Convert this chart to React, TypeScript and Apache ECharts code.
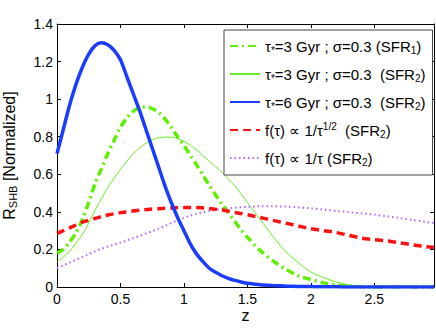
import React, { useEffect, useRef } from "react";
import * as echarts from "echarts";

const zValues = [
  0, 0.05, 0.1, 0.15, 0.2, 0.25, 0.3, 0.35, 0.4, 0.45, 0.5, 0.55, 0.6, 0.65, 0.7, 0.75,
  0.8, 0.85, 0.9, 0.95, 1.0, 1.05, 1.1, 1.15, 1.2, 1.25, 1.3, 1.35, 1.4, 1.45, 1.5,
  1.6, 1.7, 1.8, 1.9, 2.0, 2.1, 2.2, 2.3, 2.4, 2.5, 2.6, 2.7, 2.8, 2.9, 2.97,
];

const tau3Sfr1 = [
  0.18, 0.2, 0.24, 0.29, 0.36, 0.45, 0.55, 0.63, 0.71, 0.78, 0.85, 0.9, 0.935, 0.955, 0.958, 0.95,
  0.93, 0.895, 0.85, 0.8, 0.755, 0.7, 0.65, 0.595, 0.54, 0.49, 0.44, 0.395, 0.35, 0.305, 0.265,
  0.195, 0.14, 0.095, 0.06, 0.04, 0.022, 0.01, 0.004, 0.001, 0, 0, 0, 0, 0, 0,
];

const tau3Sfr2 = [
  0.135, 0.16, 0.19, 0.235, 0.28, 0.34, 0.41, 0.47, 0.53, 0.58, 0.625, 0.67, 0.71, 0.74, 0.765, 0.783,
  0.794, 0.798, 0.797, 0.79, 0.775, 0.755, 0.73, 0.7, 0.67, 0.64, 0.61, 0.575, 0.54, 0.495, 0.45,
  0.36, 0.27, 0.19, 0.13, 0.08, 0.05, 0.027, 0.012, 0.004, 0.001, 0, 0, 0, 0, 0,
];

const tau6Sfr2 = [
  0.71, 0.84, 0.97, 1.08, 1.17, 1.24, 1.285, 1.3, 1.29, 1.26, 1.21, 1.12, 1.03, 0.94, 0.84, 0.74,
  0.64, 0.54, 0.45, 0.37, 0.3, 0.23, 0.175, 0.135, 0.1, 0.078, 0.06, 0.046, 0.035, 0.027, 0.02,
  0.012, 0.008, 0.005, 0.003, 0.002, 0.001, 0.001, 0, 0, 0, 0, 0, 0, 0, 0,
];

const invSqrtTau = [
  0.285, 0.3, 0.315, 0.33, 0.345, 0.355, 0.365, 0.375, 0.383, 0.39, 0.396, 0.4, 0.405, 0.409, 0.412, 0.415,
  0.417, 0.419, 0.421, 0.422, 0.423, 0.423, 0.423, 0.421, 0.418, 0.414, 0.41, 0.404, 0.397, 0.391, 0.385,
  0.37, 0.355, 0.34, 0.325, 0.31, 0.3, 0.29, 0.275, 0.26, 0.252, 0.245, 0.235, 0.225, 0.215, 0.21,
];

const invTau = [
  0.1, 0.115, 0.13, 0.145, 0.16, 0.175, 0.19, 0.203, 0.215, 0.225, 0.236, 0.248, 0.26, 0.272, 0.285, 0.297,
  0.31, 0.325, 0.34, 0.355, 0.368, 0.38, 0.39, 0.398, 0.405, 0.41, 0.415, 0.419, 0.422, 0.425, 0.427,
  0.43, 0.43, 0.428, 0.424, 0.419, 0.412, 0.405, 0.398, 0.392, 0.385, 0.376, 0.367, 0.357, 0.347, 0.34,
];

const legendLabels = [
  "τ{sub|*}=3 Gyr ; σ=0.3 (SFR{sub|1})",
  "τ{sub|*}=3 Gyr ; σ=0.3  (SFR{sub|2})",
  "τ{sub|*}=6 Gyr ; σ=0.3  (SFR{sub|2})",
  "f(τ) ∝ 1/τ{sup|1/2}  (SFR{sub|2})",
  "f(τ) ∝ 1/τ (SFR{sub|2})",
];
const seriesNames = ["s1", "s2", "s3", "s4", "s5"];

const xLabels = { min: 0, max: 2.97, interval: 0.5 };
const yLabels = { min: 0, max: 1.4, interval: 0.2 };

const FONT = "'Liberation Sans', Arial, Helvetica, sans-serif";

export default function App() {
  const ref = useRef<HTMLDivElement>(null);
  useEffect(() => {
    document.body.style.margin = "0";
    if (!ref.current) return;
    const chart = echarts.init(ref.current, undefined, { renderer: "svg" });
    const pair = (arr: number[]) => zValues.map((z, i) => [z, arr[i]]);
    const axisCommon = {
      type: "value" as const,
      axisLine: { show: true, onZero: false, lineStyle: { color: "#000", width: 1 } },
      axisTick: { show: true, inside: true, length: 4, lineStyle: { color: "#000" } },
      splitLine: { show: false },
    };
    const sub = { fontSize: 10, lineHeight: 10, padding: [8, 0, 0, 0], fontFamily: FONT, color: "#000" };
    const sup = { fontSize: 10, lineHeight: 10, padding: [0, 0, 7, 0], fontFamily: FONT, color: "#000" };
    chart.setOption({
      animation: false,
      backgroundColor: "#fff",
      textStyle: { fontFamily: FONT },
      grid: { left: 57, right: 2, top: 24, bottom: 41, containLabel: false, outerBoundsMode: "none" },
      xAxis: [
        {
          ...axisCommon,
          position: "bottom",
          min: xLabels.min,
          max: xLabels.max,
          interval: xLabels.interval,
          name: "z",
          nameLocation: "middle",
          nameGap: 21,
          nameMoveOverlap: false,
          nameTextStyle: { fontSize: 16, lineHeight: 14, color: "#000", fontFamily: FONT },
          axisLabel: { show: true, fontSize: 14, color: "#000", margin: 5, showMaxLabel: false, fontFamily: FONT },
        },
        {
          ...axisCommon,
          position: "top",
          min: xLabels.min,
          max: xLabels.max,
          interval: xLabels.interval,
          axisLabel: { show: false },
        },
      ],
      yAxis: [
        {
          ...axisCommon,
          position: "left",
          min: yLabels.min,
          max: yLabels.max,
          interval: yLabels.interval,
          name: "R{sub|SHB} [Normalized]",
          nameLocation: "middle",
          nameRotate: 90,
          nameGap: 39,
          nameMoveOverlap: false,
          nameTextStyle: {
            fontSize: 16,
            color: "#000",
            fontFamily: FONT,
            lineHeight: 18,
            rich: {
              sub: { fontSize: 11, lineHeight: 11, padding: [8, 0, 0, 0], fontFamily: FONT, color: "#000" },
            },
          },
          axisLabel: { show: true, fontSize: 14, color: "#000", margin: 4, fontFamily: FONT },
        },
        {
          ...axisCommon,
          position: "right",
          min: yLabels.min,
          max: yLabels.max,
          interval: yLabels.interval,
          axisLabel: { show: false },
        },
      ],
      legend: {
        show: true,
        orient: "vertical",
        left: 224,
        top: 30,
        padding: [7, 7, 8, 5],
        itemWidth: 30,
        itemHeight: 14,
        itemGap: 10,
        backgroundColor: "#fff",
        borderColor: "#444",
        borderWidth: 1,
        borderRadius: 0,
        itemStyle: { opacity: 0 },
        data: seriesNames,
        formatter: (name: string) => legendLabels[seriesNames.indexOf(name)],
        textStyle: {
          fontSize: 15,
          lineHeight: 16,
          color: "#000",
          fontFamily: FONT,
          rich: { sub, sup },
        },
      },
      series: [
        {
          name: seriesNames[0],
          type: "line",
          data: pair(tau3Sfr1),
          showSymbol: false,
          symbol: "none",
          smooth: 0.3,
          lineStyle: { color: "#5ef000", width: 3.5, type: [8, 4, 2, 4] },
          itemStyle: { color: "#5ef000" },
          z: 3,
        },
        {
          name: seriesNames[1],
          type: "line",
          data: pair(tau3Sfr2),
          showSymbol: false,
          symbol: "none",
          smooth: 0.3,
          lineStyle: { color: "#66ee22", width: 1 },
          itemStyle: { color: "#66ee22" },
          z: 2,
        },
        {
          name: seriesNames[2],
          type: "line",
          data: pair(tau6Sfr2),
          showSymbol: false,
          symbol: "none",
          smooth: 0.3,
          lineStyle: { color: "#1a3cff", width: 3.5 },
          itemStyle: { color: "#1a3cff" },
          z: 4,
        },
        {
          name: seriesNames[3],
          type: "line",
          data: pair(invSqrtTau),
          showSymbol: false,
          symbol: "none",
          smooth: 0.3,
          lineStyle: { color: "#ff1010", width: 3.5, type: [8, 5] },
          itemStyle: { color: "#ff1010" },
          z: 3,
        },
        {
          name: seriesNames[4],
          type: "line",
          data: pair(invTau),
          showSymbol: false,
          symbol: "none",
          smooth: 0.3,
          lineStyle: { color: "#b266ff", width: 2, type: [1.5, 3] },
          itemStyle: { color: "#b266ff" },
          z: 2,
        },
      ],
    });
    return () => chart.dispose();
  }, []);
  return <div ref={ref} style={{ width: 436, height: 328 }} />;
}
